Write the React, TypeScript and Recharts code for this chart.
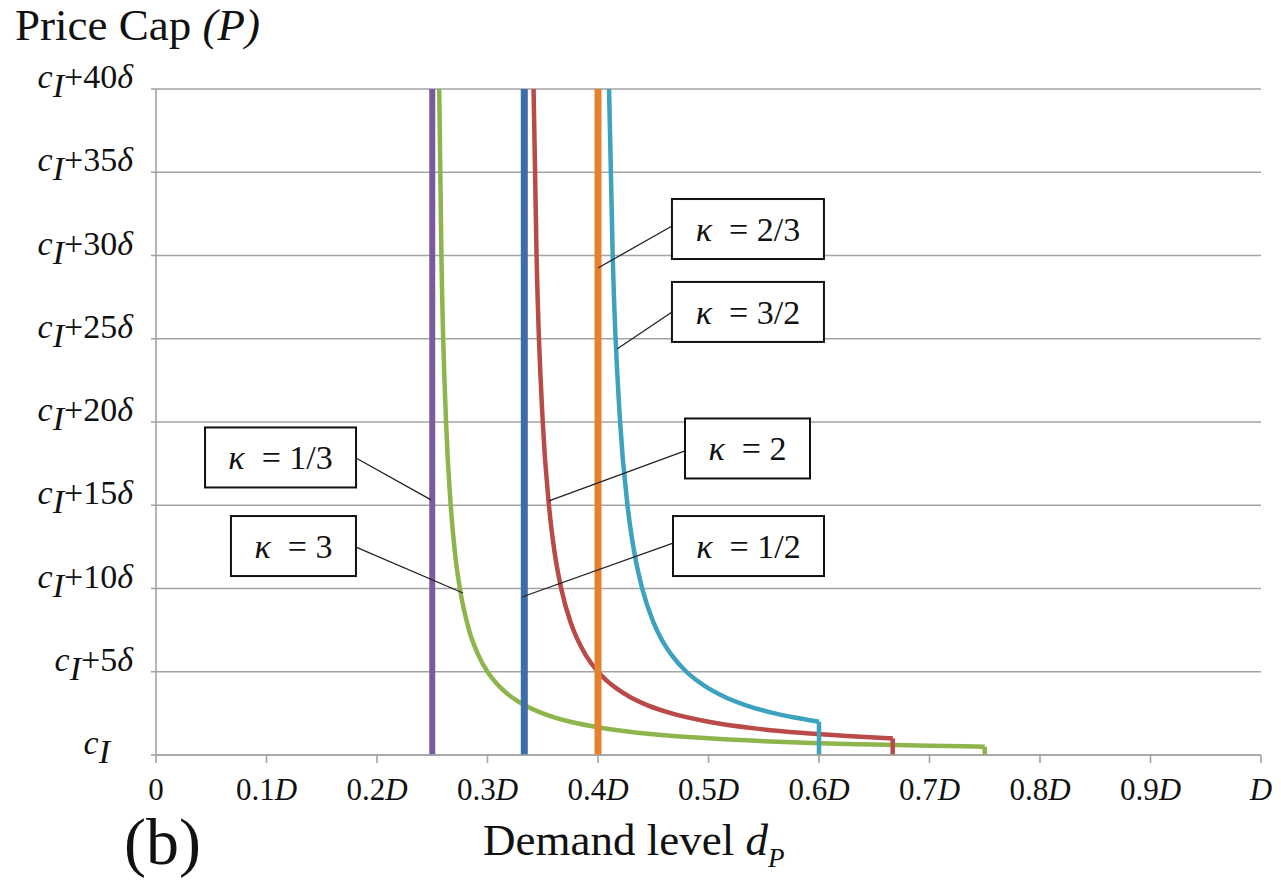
import { FC } from "react";
import {
  CartesianGrid,
  Line,
  LineChart,
  ReferenceDot,
  ReferenceLine,
  XAxis,
  YAxis,
} from "recharts";

// x = demand level (share of D), y = price cap in steps of delta above c_I
const xTicks = [0, 0.1, 0.2, 0.3, 0.4, 0.5, 0.6, 0.7, 0.8, 0.9, 1];
const xTickText = ["0", "0.1", "0.2", "0.3", "0.4", "0.5", "0.6", "0.7", "0.8", "0.9", ""];
const yTicks = [0, 5, 10, 15, 20, 25, 30, 35, 40];
const yTickText = ["", "+5δ", "+10δ", "+15δ", "+20δ", "+25δ", "+30δ", "+35δ", "+40δ"];

// kappa = 3 (green)
const greenCurve = [
  { x: 0.2563, y: 40 },
  { x: 0.2583, y: 30 },
  { x: 0.2625, y: 20 },
  { x: 0.2667, y: 15 },
  { x: 0.2708, y: 12 },
  { x: 0.275, y: 10 },
  { x: 0.2833, y: 7.5 },
  { x: 0.2917, y: 6 },
  { x: 0.3, y: 5 },
  { x: 0.3056, y: 4.5 },
  { x: 0.3125, y: 4 },
  { x: 0.3214, y: 3.5 },
  { x: 0.3333, y: 3 },
  { x: 0.35, y: 2.5 },
  { x: 0.3611, y: 2.25 },
  { x: 0.375, y: 2 },
  { x: 0.4, y: 1.67 },
  { x: 0.425, y: 1.43 },
  { x: 0.45, y: 1.25 },
  { x: 0.5, y: 1.0 },
  { x: 0.55, y: 0.83 },
  { x: 0.6, y: 0.71 },
  { x: 0.65, y: 0.63 },
  { x: 0.7, y: 0.56 },
  { x: 0.75, y: 0.5 },
];
const greenDrop = [
  { x: 0.75, y: 0.5 },
  { x: 0.75, y: 0 },
];

// kappa = 2 (red)
const redCurve = [
  { x: 0.3417, y: 40 },
  { x: 0.3444, y: 30 },
  { x: 0.35, y: 20 },
  { x: 0.3556, y: 15 },
  { x: 0.3611, y: 12 },
  { x: 0.3667, y: 10 },
  { x: 0.375, y: 8 },
  { x: 0.381, y: 7 },
  { x: 0.3889, y: 6 },
  { x: 0.4, y: 5 },
  { x: 0.4074, y: 4.5 },
  { x: 0.4167, y: 4 },
  { x: 0.4286, y: 3.5 },
  { x: 0.4444, y: 3 },
  { x: 0.4667, y: 2.5 },
  { x: 0.5, y: 2 },
  { x: 0.5417, y: 1.6 },
  { x: 0.5833, y: 1.33 },
  { x: 0.625, y: 1.14 },
  { x: 0.6667, y: 1.0 },
];
const redDrop = [
  { x: 0.6667, y: 1.0 },
  { x: 0.6667, y: 0 },
];

// kappa = 3/2 (cyan)
const cyanCurve = [
  { x: 0.41, y: 40 },
  { x: 0.4133, y: 30 },
  { x: 0.42, y: 20 },
  { x: 0.4267, y: 15 },
  { x: 0.4333, y: 12 },
  { x: 0.44, y: 10 },
  { x: 0.45, y: 8 },
  { x: 0.4571, y: 7 },
  { x: 0.4667, y: 6 },
  { x: 0.48, y: 5 },
  { x: 0.4889, y: 4.5 },
  { x: 0.5, y: 4 },
  { x: 0.5143, y: 3.5 },
  { x: 0.5333, y: 3 },
  { x: 0.56, y: 2.5 },
  { x: 0.5778, y: 2.25 },
  { x: 0.6, y: 2 },
];
const cyanDrop = [
  { x: 0.6, y: 2 },
  { x: 0.6, y: 0 },
];

// kappa = 1/3, 1/2, 2/3 (vertical)
const purpleLine = [
  { x: 0.25, y: 0 },
  { x: 0.25, y: 40 },
];
const blueLine = [
  { x: 0.3333, y: 0 },
  { x: 0.3333, y: 40 },
];
const orangeLine = [
  { x: 0.4, y: 0 },
  { x: 0.4, y: 40 },
];

// callouts: label, box centre, leader start/end (data coords)
const noteLabels = ["1/3", "3", "2/3", "3/2", "2", "1/2"];
const noteCentres = [
  { x: 0.1127, y: 17.87 },
  { x: 0.1244, y: 12.55 },
  { x: 0.5357, y: 31.59 },
  { x: 0.5357, y: 26.61 },
  { x: 0.5353, y: 18.41 },
  { x: 0.5362, y: 12.55 },
];
const noteLeaders = [
  [{ x: 0.181, y: 17.84 }, { x: 0.2489, y: 15.32 }],
  [{ x: 0.181, y: 12.49 }, { x: 0.2778, y: 9.73 }],
  [{ x: 0.467, y: 31.77 }, { x: 0.4, y: 29.25 }],
  [{ x: 0.467, y: 26.61 }, { x: 0.4172, y: 24.38 }],
  [{ x: 0.4787, y: 18.26 }, { x: 0.3557, y: 15.26 }],
  [{ x: 0.4679, y: 12.73 }, { x: 0.3312, y: 9.49 }],
];
const noteWidths = [151, 125, 152, 152, 125, 151];

const FONT = "'Liberation Serif', 'Times New Roman', serif";
const GRID = "#a3a3a3";

const XTick = (props: any) => {
  const { x, y, payload, index } = props;
  const t = xTickText[index] ?? "";
  return (
    <text x={x} y={y + 37} textAnchor="middle" fontFamily={FONT} fontSize={31} fill="#111">
      {t}
      {payload.value > 0 && <tspan fontStyle="italic">D</tspan>}
    </text>
  );
};

const YTick = (props: any) => {
  const { x, y, index } = props;
  const t = yTickText[index] ?? "";
  const right = t ? x - 18 : x - 41;
  return (
    <text x={right} y={y - 1} textAnchor="end" fontFamily={FONT} fontSize={34} fill="#111">
      <tspan fontStyle="italic">c</tspan>
      <tspan fontStyle="italic" dy={9}>I</tspan>
      {t && <tspan dy={-9}>{t.replace("δ", "")}</tspan>}
      {t && <tspan fontStyle="italic">δ</tspan>}
    </text>
  );
};

const NoteBox = ({ cx, cy, w, label }: any) => (
  <g>
    <rect x={cx - w / 2} y={cy - 30} width={w} height={60} fill="#fff" stroke="#111" strokeWidth={2} />
    <text x={cx} y={cy + 12} textAnchor="middle" fontFamily={FONT} fontSize={34} fill="#111" style={{ whiteSpace: "pre" }}>
      <tspan fontStyle="italic">κ</tspan>
      {"  = " + label}
    </text>
  </g>
);

const App: FC = () => {
  const line = (data: any[], color: string, width: number, type: any = "linear") => (
    <Line
      data={data}
      dataKey="y"
      type={type}
      stroke={color}
      strokeWidth={width}
      dot={false}
      activeDot={false}
      isAnimationActive={false}
    />
  );
  return (
    <div style={{ position: "absolute", left: 0, top: 0, width: 1281, height: 882, background: "#fff" }}>
      <LineChart width={1281} height={882} margin={{ top: 89, right: 20, left: 0, bottom: 67 }}>
        <CartesianGrid vertical={false} stroke={GRID} strokeWidth={1.6} />
        <XAxis
          dataKey="x"
          type="number"
          domain={[0, 1]}
          ticks={xTicks}
          height={60}
          tickSize={8}
          tickMargin={0}
          tick={<XTick />}
          axisLine={{ stroke: GRID, strokeWidth: 1.6 }}
          tickLine={{ stroke: GRID, strokeWidth: 1.6 }}
          allowDataOverflow
        />
        <YAxis
          type="number"
          domain={[0, 40]}
          ticks={yTicks}
          width={156}
          tickSize={5}
          tickMargin={0}
          tick={<YTick />}
          axisLine={{ stroke: GRID, strokeWidth: 1.6 }}
          tickLine={{ stroke: GRID, strokeWidth: 1.6 }}
          allowDataOverflow
        />
        {line(greenCurve, "#8db54c", 4.5, "monotone")}
        {line(greenDrop, "#8db54c", 4.5)}
        {line(redCurve, "#b94a48", 4.5, "monotone")}
        {line(redDrop, "#b94a48", 4.5)}
        {line(cyanCurve, "#3ca2bf", 4.5, "monotone")}
        {line(cyanDrop, "#3ca2bf", 4.5)}
        {line(purpleLine, "#7a5b9c", 6)}
        {line(blueLine, "#3d6eab", 7)}
        {line(orangeLine, "#e5822f", 7)}
        {noteLeaders.map((seg, i) => (
          <ReferenceLine key={"l" + i} segment={seg} stroke="#222" strokeWidth={1.3} ifOverflow="visible" />
        ))}
        {noteCentres.map((c, i) => (
          <ReferenceDot
            key={"n" + i}
            x={c.x}
            y={c.y}
            r={1}
            ifOverflow="visible"
            shape={(p: any) => <NoteBox cx={p.cx} cy={p.cy} w={noteWidths[i]} label={noteLabels[i]} />}
          />
        ))}
      </LineChart>
      <svg width={1281} height={882} style={{ position: "absolute", left: 0, top: 0, pointerEvents: "none" }}>
        <text x={15} y={40} fontFamily={FONT} fontSize={45} fill="#111">
          Price Cap <tspan fontStyle="italic">(P)</tspan>
        </text>
        <text x={124} y={864} fontFamily={FONT} fontSize={66} fill="#111">
          (b)
        </text>
        <text x={483} y={855} fontFamily={FONT} fontSize={45} fill="#111">
          Demand level <tspan fontStyle="italic">d</tspan>
          <tspan fontStyle="italic" fontSize={27} dy={12}>P</tspan>
        </text>
      </svg>
    </div>
  );
};

export default App;
